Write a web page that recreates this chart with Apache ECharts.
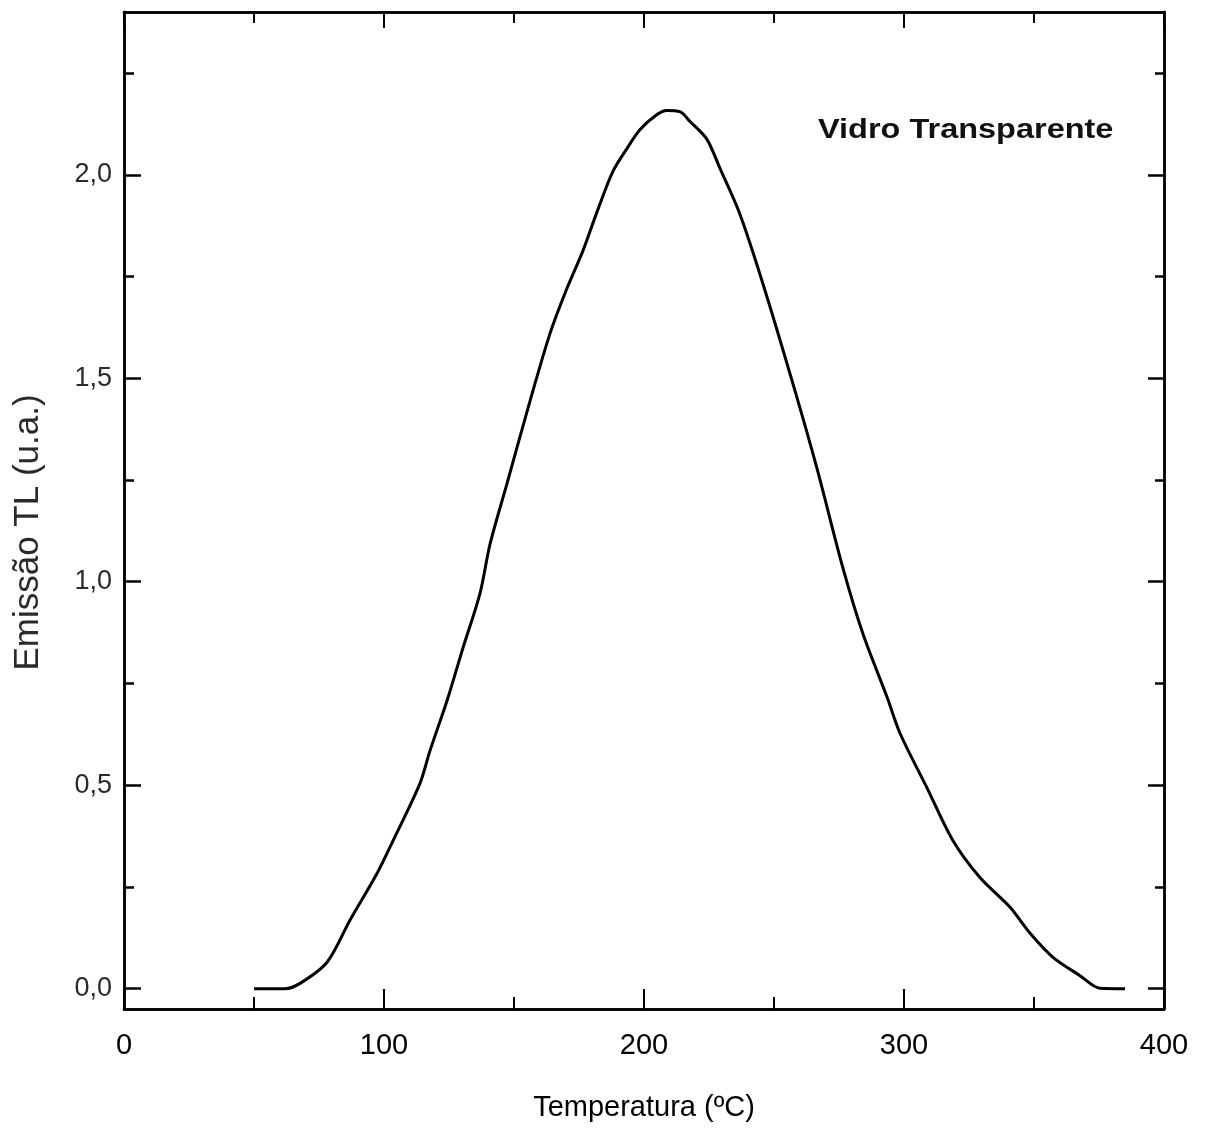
<!DOCTYPE html>
<html>
<head>
<meta charset="utf-8">
<script src="https://cdn.jsdelivr.net/npm/echarts@6/dist/echarts.min.js"></script>
<style>
html,body{margin:0;padding:0;background:#fff;}
#c{width:1208px;height:1129px;}
</style>
</head>
<body>
<div id="c"></div>
<script>
// Data
const temperature = [50, 61.9, 67.7, 78.1, 86.9, 97.3, 103.5, 113.8, 117.7, 124.2, 130.5, 136.9, 140.8, 147.3, 156.2, 163.8, 170, 176.5, 182, 188, 193.5, 198.5, 205, 208.8, 213.8, 217.7, 224.2, 229.2, 236.9, 245.8, 257.3, 266.5, 276.5, 284.2, 293.5, 298.5, 308.8, 318.8, 329.2, 340.8, 348.5, 357.3, 367.7, 375.4, 385];
const emission    = [0, 0, 0.013, 0.065, 0.168, 0.283, 0.364, 0.504, 0.585, 0.707, 0.84, 0.971, 1.093, 1.241, 1.445, 1.609, 1.715, 1.813, 1.91, 2.008, 2.065, 2.111, 2.148, 2.158, 2.155, 2.131, 2.087, 2.016, 1.903, 1.731, 1.486, 1.279, 1.034, 0.872, 0.716, 0.627, 0.494, 0.364, 0.273, 0.2, 0.136, 0.077, 0.032, 0.001, 0];
const xMajorTicks = [0, 100, 200, 300, 400];
const xMinorTicks = [50, 150, 250, 350];
const yMajorTicks = [0, 0.5, 1.0, 1.5, 2.0];
const yMinorTicks = [0.25, 0.75, 1.25, 1.75, 2.25];
const xTitle = 'Temperatura (ºC)';
const yTitle = 'Emissão TL (u.a.)';
const seriesLabel = 'Vidro Transparente';

const chart = echarts.init(document.getElementById('c'), null, {renderer: 'canvas'});
const axisLine = {show: true, onZero: false, lineStyle: {color: '#000', width: 2.5}};
const font = 'Liberation Sans, Arial, sans-serif';

function xAx(pos, ticks, len, labels) {
  return {
    type: 'value', min: 0, max: 400, position: pos,
    axisLine: axisLine,
    splitLine: {show: false},
    axisTick: {show: true, inside: true, length: len, customValues: ticks, lineStyle: {color: '#000', width: 2}},
    axisLabel: labels ? {show: true, customValues: ticks, color: '#000', fontSize: 29, fontFamily: font, margin: 22} : {show: false},
    name: labels ? xTitle : '',
    nameLocation: 'middle', nameGap: 84,
    nameTextStyle: {color: '#000', fontSize: 29, fontFamily: font}
  };
}
function yAx(pos, ticks, len, labels) {
  return {
    type: 'value', min: -0.05, max: 2.4, position: pos,
    axisLine: axisLine,
    splitLine: {show: false},
    axisTick: {show: true, inside: true, length: len, customValues: ticks, lineStyle: {color: '#000', width: 2.5}},
    axisLabel: labels ? {show: true, customValues: ticks, color: '#2a2a2a', fontSize: 27, fontFamily: font, margin: 12,
      formatter: v => v.toFixed(1).replace('.', ',')} : {show: false},
    name: labels ? yTitle : '',
    nameLocation: 'middle', nameGap: 78, nameRotate: 90,
    nameTextStyle: {color: '#2a2a2a', fontSize: 35, fontFamily: font, padding: [0, 44, 0, 0]}
  };
}

chart.setOption({
  animation: false,
  backgroundColor: '#fff',
  grid: {left: 124, right: 44, top: 12, bottom: 120},
  xAxis: [
    xAx('bottom', xMajorTicks, 20, true),
    xAx('bottom', xMinorTicks, 12, false),
    xAx('top', xMajorTicks, 16, false),
    xAx('top', xMinorTicks, 11, false)
  ],
  yAxis: [
    yAx('left', yMajorTicks, 17, true),
    yAx('left', yMinorTicks, 10, false),
    yAx('right', yMajorTicks, 16, false),
    yAx('right', yMinorTicks, 9, false)
  ],
  graphic: [{
    type: 'text', x: 818, y: 116, scaleX: 1.16,
    style: {text: seriesLabel, fill: '#111', font: 'bold 28px ' + font}
  }],
  series: [{
    name: seriesLabel,
    type: 'line',
    xAxisIndex: 0, yAxisIndex: 0,
    data: temperature.map((t, i) => [t, emission[i]]),
    showSymbol: false,
    smooth: 0.3,
    lineStyle: {color: '#000', width: 3}
  }]
});
</script>
</body>
</html>
